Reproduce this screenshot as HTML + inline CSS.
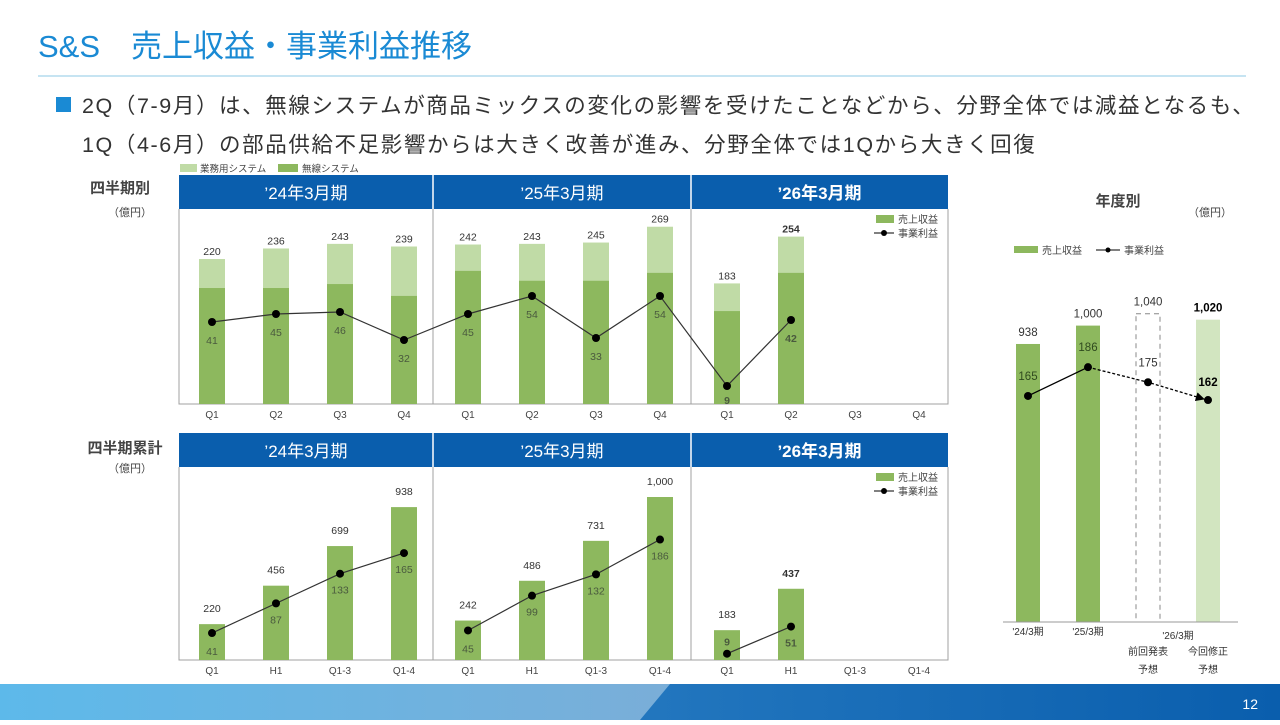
<!DOCTYPE html>
<html><head><meta charset="utf-8">
<style>
html,body{margin:0;padding:0;background:#fff;}
body{width:1280px;height:720px;overflow:hidden;font-family:"Liberation Sans","Noto Sans CJK JP",sans-serif;}
svg text{font-family:"Liberation Sans","Noto Sans CJK JP",sans-serif;}
</style></head>
<body>
<svg id="page" width="1280" height="720" viewBox="0 0 1280 720" xmlns="http://www.w3.org/2000/svg">
<defs>
<linearGradient id="gL" x1="0" x2="1" y1="0" y2="0"><stop offset="0" stop-color="#5db9ea"/><stop offset="1" stop-color="#7aaed8"/></linearGradient>
<linearGradient id="gR" x1="0" x2="1" y1="0" y2="0"><stop offset="0" stop-color="#3b8fd0"/><stop offset="1" stop-color="#0a5ead"/></linearGradient>
<marker id="arr" viewBox="0 0 10 10" refX="9" refY="5" markerWidth="7" markerHeight="7" orient="auto"><path d="M0,0L10,5L0,10z" fill="#000"/></marker>
</defs>
<text x="38" y="57" font-size="31" fill="#1a8ad4">S&amp;S　売上収益・事業利益推移</text>
<line x1="38" y1="76" x2="1246" y2="76" stroke="#8cc8e6" stroke-width="1"/>
<rect x="56" y="97" width="15" height="15" fill="#1a8ad4"/>
<text x="82" y="113" font-size="21.5" letter-spacing="1.6" fill="#333">2Q（7-9月）は、無線システムが商品ミックスの変化の影響を受けたことなどから、分野全体では減益となるも、</text>
<text x="82" y="152" font-size="21.5" letter-spacing="1.6" fill="#333">1Q（4-6月）の部品供給不足影響からは大きく改善が進み、分野全体では1Qから大きく回復</text>
<g>
<rect x="180" y="164" width="17" height="8" fill="#c0dba6"/><text x="200" y="172" font-size="9.5" fill="#444">業務用システム</text>
<rect x="278" y="164" width="20" height="8" fill="#8db85e"/><text x="302" y="172" font-size="9.5" fill="#444">無線システム</text>
</g>
<text x="120" y="193" font-size="15" font-weight="bold" fill="#444" text-anchor="middle">四半期別</text>
<text x="130" y="216" font-size="11" fill="#444" text-anchor="middle">（億円）</text>
<text x="125" y="453" font-size="15" font-weight="bold" fill="#444" text-anchor="middle">四半期累計</text>
<text x="130" y="472" font-size="11" fill="#444" text-anchor="middle">（億円）</text>
<g id="top"></g><g id="bot"></g><g id="right"></g>
<g>
<rect x="0" y="684" width="1280" height="36" fill="url(#gR)"/>
<polygon points="0,684 670,684 640,720 0,720" fill="url(#gL)"/>
<text x="1258" y="709" font-size="14" fill="#fff" text-anchor="end">12</text>
</g>
</svg>
<script>
// ---- quarterly data
const periods = ["\u201924年3月期","\u201925年3月期","\u201926年3月期"];
const qCats = ["Q1","Q2","Q3","Q4"];
const qTotal = [220,236,243,239, 242,243,245,269, 183,254,null,null];
const qWireless = [176,176,182,164, 202,187,187,199, 141,199,null,null];
const qProfit = [41,45,46,32, 45,54,33,54, 9,42,null,null];
// ---- cumulative data
const cCats = ["Q1","H1","Q1-3","Q1-4"];
const cSales = [220,456,699,938, 242,486,731,1000, 183,437,null,null];
const cProfit = [41,87,133,165, 45,99,132,186, 9,51,null,null];
// ---- annual data
const aCats = ["'24/3期","'25/3期","前回発表","今回修正"];
const aSales = [938,1000,1040,1020];
const aProfit = [165,186,175,162];

const NS="http://www.w3.org/2000/svg";
function mk(parent,tag,attrs,txt){const e=document.createElementNS(NS,tag);for(const k in attrs)e.setAttribute(k,attrs[k]);if(txt!=null)e.textContent=txt;parent.appendChild(e);return e;}
const colX = i => 212 + Math.floor(i/4)*256 + (i%4)*64 + (Math.floor(i/4)===2?3:0);

function panelFrame(g, top, base, labels, namePrefix){
  const hdrs=[[179,433],[433,691],[691,948]];
  hdrs.forEach((h,i)=>{
    const r=mk(g,'rect',{x:h[0],y:top,width:h[1]-h[0],height:34,fill:'#0a5ead'});
    
    
    const t=mk(g,'text',{x:(h[0]+h[1])/2,y:top+24,'font-size':17,'font-weight':i===2?'bold':'normal',fill:'#fff','text-anchor':'middle'},periods[i]);
    
    
    if(i>0) mk(g,'line',{x1:h[0],y1:top,x2:h[0],y2:top+34,stroke:'#fff','stroke-width':1.5});
  });
  mk(g,'path',{d:`M179,${top+34}V${base}H948V${top+34}M433,${top+34}V${base}M691,${top+34}V${base}`,fill:'none',stroke:'#a0a0a0','stroke-width':1});
  for(let i=0;i<12;i++){
    const t=mk(g,'text',{x:colX(i),y:base+14,'font-size':10,fill:'#444','text-anchor':'middle'},labels[i%4]);
    
    
  }
  const lg=mk(g,'g',{});
  
  
  mk(lg,'rect',{x:876,y:top+40,width:18,height:8,fill:'#8db85e'});
  mk(lg,'text',{x:898,y:top+48,'font-size':10,fill:'#444'},'売上収益');
  mk(lg,'line',{x1:874,y1:top+58,x2:894,y2:top+58,stroke:'#000'});
  mk(lg,'circle',{cx:884,cy:top+58,r:3,fill:'#000'});
  mk(lg,'text',{x:898,y:top+62,'font-size':10,fill:'#444'},'事業利益');
}
function profitLine(g,vals,yf,namePrefix,labelDy,breakPeriods){
  let d='';
  vals.forEach((v,i)=>{ if(v==null)return; const start=!d||(breakPeriods&&i%4===0); d+=(start?'M':'L')+colX(i)+','+yf(v);});
  const l=mk(g,'path',{d,fill:'none',stroke:'#333','stroke-width':1.2});
  
  
  vals.forEach((v,i)=>{ if(v==null)return;
    const c=mk(g,'circle',{cx:colX(i),cy:yf(v),r:4,fill:'#000'});
    
    
    const t=mk(g,'text',{x:colX(i),y:yf(v)+labelDy(i,v),'font-size':10.5,fill:'#4a5a3e','text-anchor':'middle','font-weight':i>=8?'bold':'normal'},v);
    
    
  });
}

// top chart
(function(){
  const g=document.getElementById('top');
  const base=404, ys=v=>base-v*0.659, yp=v=>404-2*v;
  panelFrame(g,175,base,qCats,'quarterly');
  qTotal.forEach((v,i)=>{ if(v==null)return;
    const x=colX(i)-13;
    const b1=mk(g,'rect',{x,y:ys(v),width:26,height:base-ys(v),fill:'#c0dba6'});
    
    
    const b2=mk(g,'rect',{x,y:ys(qWireless[i]),width:26,height:base-ys(qWireless[i]),fill:'#8db85e'});
    
    
    const t=mk(g,'text',{x:colX(i),y:ys(v)-4,'font-size':10.5,fill:'#333','text-anchor':'middle','font-weight':i>=9?'bold':'normal'},v);
    
    
  });
  profitLine(g,qProfit,yp,'quarterly',(i,v)=>i===8?18:22,false);
})();

// bottom chart
(function(){
  const g=document.getElementById('bot');
  const base=660, ys=v=>base-v*0.163, yp=v=>659.5-v*0.645;
  panelFrame(g,433,base,cCats,'cumulative');
  cSales.forEach((v,i)=>{ if(v==null)return;
    const x=colX(i)-13;
    const b=mk(g,'rect',{x,y:ys(v),width:26,height:base-ys(v),fill:'#8db85e'});
    
    
    const t=mk(g,'text',{x:colX(i),y:ys(v)-12,'font-size':10.5,fill:'#333','text-anchor':'middle','font-weight':i>=9?'bold':'normal'},v.toLocaleString('en-US'));
    
    
  });
  profitLine(g,cProfit,yp,'cumulative',(i,v)=>i===8?-8:(i%4===0?22:20),true);
})();

// right annual chart
(function(){
  const g=document.getElementById('right');
  const base=622, ys=v=>base-v*0.2964, yp=v=>622-v*1.37;
  const ax=i=>1028+i*60;
  mk(g,'text',{x:1118,y:206,'font-size':15,'font-weight':'bold',fill:'#444','text-anchor':'middle'},'年度別');
  mk(g,'text',{x:1210,y:216,'font-size':11,fill:'#444','text-anchor':'middle'},'（億円）');
  const lg=mk(g,'g',{});
  
  
  mk(lg,'rect',{x:1014,y:246,width:24,height:7,fill:'#8db85e'});
  mk(lg,'text',{x:1042,y:254,'font-size':10,fill:'#444'},'売上収益');
  mk(lg,'line',{x1:1096,y1:250,x2:1120,y2:250,stroke:'#000'});
  mk(lg,'circle',{cx:1108,cy:250,r:2.5,fill:'#000'});
  mk(lg,'text',{x:1124,y:254,'font-size':10,fill:'#444'},'事業利益');
  const fills=['#8db85e','#8db85e','none','#d2e5c0'];
  aSales.forEach((v,i)=>{
    const b=mk(g,'rect',{x:ax(i)-12,y:ys(v),width:24,height:base-ys(v),fill:fills[i]});
    if(i===2){b.setAttribute('stroke','#888');b.setAttribute('stroke-dasharray','5,4');}
    
    
    const t=mk(g,'text',{x:ax(i),y:ys(v)-8,'font-size':11.5,fill:i===3?'#000':'#333','text-anchor':'middle','font-weight':i===3?'bold':'normal'},v.toLocaleString('en-US'));
    
    
  });
  mk(g,'line',{x1:1003,y1:base,x2:1238,y2:base,stroke:'#999'});
  const l1=mk(g,'line',{x1:ax(0),y1:yp(aProfit[0]),x2:ax(1),y2:yp(aProfit[1]),stroke:'#000','stroke-width':1.3});
  
  const l2=mk(g,'polyline',{points:`${ax(1)},${yp(aProfit[1])} ${ax(2)},${yp(aProfit[2])} ${ax(3)-4},${yp(aProfit[3])-1}`,fill:'none',stroke:'#000','stroke-width':1.3,'stroke-dasharray':'3,2','marker-end':'url(#arr)'});
  
  aProfit.forEach((v,i)=>{
    const c=mk(g,'circle',{cx:ax(i),cy:yp(v),r:4,fill:'#000'});
    
    
    const t=mk(g,'text',{x:ax(i),y:yp(v)-(i===3?14:16),'font-size':11.5,fill:i===3?'#000':(i===2?'#333':'#2f4a1e'),'text-anchor':'middle','font-weight':i===3?'bold':'normal'},v);
    
    
  });
  [[ax(0),635,aCats[0]],[ax(1),635,aCats[1]],[1178,639,"'26/3期"],[ax(2),655,aCats[2]],[ax(3),655,aCats[3]],[ax(2),673,'予想'],[ax(3),673,'予想']].forEach(a=>{
    const t=mk(g,'text',{x:a[0],y:a[1],'font-size':10,fill:'#333','text-anchor':'middle'},a[2]);
    
    
  });
})();
</script>
</body></html>
